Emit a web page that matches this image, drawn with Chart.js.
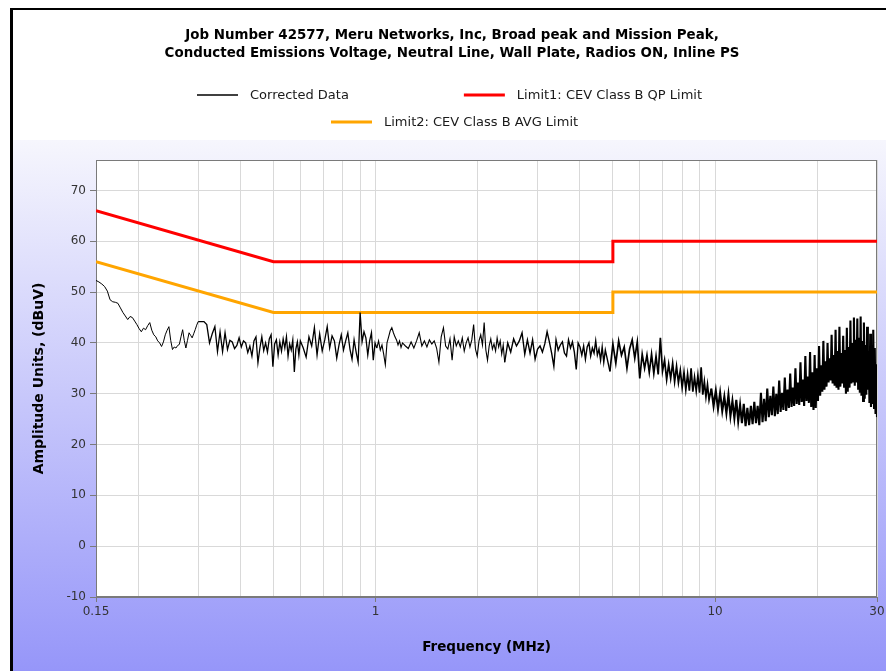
<!DOCTYPE html>
<html>
<head>
<meta charset="utf-8">
<script src="https://cdn.jsdelivr.net/npm/chart.js@4.4.1/dist/chart.umd.min.js"></script>
<style>
html,body{margin:0;padding:0;background:#fff;}
canvas{display:block;}
</style>
</head>
<body>
<canvas id="c" width="886" height="671"></canvas>
<script>
// ---------------- data ----------------
const titleLines = [
  'Job Number 42577, Meru Networks, Inc, Broad peak and Mission Peak,',
  'Conducted Emissions Voltage, Neutral Line, Wall Plate, Radios ON, Inline PS'
];
const seriesLabels = ['Corrected Data', 'Limit1: CEV Class B QP Limit', 'Limit2: CEV Class B AVG Limit'];
const xAxisTitle = 'Frequency (MHz)';
const yAxisTitle = 'Amplitude Units, (dBuV)';
const xTickLabels = [0.15, 1, 10, 30];
const xGridValues = [0.15, 0.2, 0.3, 0.4, 0.5, 0.6, 0.7, 0.8, 0.9, 1, 2, 3, 4, 5, 6, 7, 8, 9, 10, 20, 30];
const yTickValues = [-10, 0, 10, 20, 30, 40, 50, 60, 70];

const limitFreqs = [0.15, 0.5, 5, 5, 30];
const qpLimit = [66, 56, 56, 60, 60];
const avgLimit = [56, 46, 46, 50, 50];

const freqMHz = [
  0.150,0.153,0.156,0.159,0.162,0.165,0.168,0.171,0.174,0.177,0.180,0.183,0.186,0.189,0.192,0.195,0.198,0.201,0.204,0.207,
  0.210,0.213,0.216,0.219,0.222,0.225,0.228,0.231,0.234,0.237,0.240,0.243,0.246,0.249,0.252,0.255,0.258,0.261,0.264,0.267,
  0.270,0.273,0.276,0.279,0.282,0.285,0.288,0.291,0.294,0.297,0.300,
  0.306,0.312,0.318,0.324,0.330,0.336,0.342,0.348,0.354,0.360,0.366,0.372,0.378,0.384,0.390,0.396,0.402,0.408,0.414,0.420,
  0.426,0.432,0.438,0.444,0.450,0.456,0.462,0.468,0.474,0.480,0.486,0.492,0.498,0.504,0.510,0.516,0.522,0.528,0.534,0.540,
  0.546,0.552,0.558,0.564,0.570,0.576,0.582,0.588,0.594,0.600,
  0.612,0.624,0.636,0.648,0.660,0.672,0.684,0.696,0.708,0.720,0.732,0.744,0.756,0.768,0.780,0.792,0.804,0.816,0.828,0.840,
  0.852,0.864,0.876,0.888,0.900,0.912,0.924,0.936,0.948,0.960,0.972,0.984,0.996,1.008,1.020,1.032,1.044,1.056,1.068,1.080,
  1.092,1.104,1.116,1.128,1.140,1.152,1.164,1.176,1.188,1.200,
  1.224,1.248,1.272,1.296,1.320,1.344,1.368,1.392,1.416,1.440,1.464,1.488,1.512,1.536,1.560,1.584,1.608,1.632,1.656,1.680,
  1.704,1.728,1.752,1.776,1.800,1.824,1.848,1.872,1.896,1.920,1.944,1.968,1.992,2.016,2.040,2.064,2.088,2.112,2.136,2.160,
  2.184,2.208,2.232,2.256,2.280,2.304,2.328,2.352,2.376,2.400,
  2.45,2.50,2.55,2.60,2.65,2.70,2.75,2.80,2.85,2.90,2.95,3.00,3.05,3.10,3.15,3.20,3.25,3.30,3.35,3.40,
  3.45,3.50,3.55,3.60,3.65,3.70,3.75,3.80,3.85,3.90,3.95,4.00,4.05,4.10,4.15,4.20,4.25,4.30,4.35,4.40,
  4.45,4.50,4.55,4.60,4.65,4.70,4.75,4.80,
  4.9,5.0,5.1,5.2,5.3,5.4,5.5,5.6,5.7,5.8,5.9,6.0,6.1,6.2,6.3,6.4,6.5,6.6,6.7,6.8,
  6.9,7.0,7.1,7.2,7.3,7.4,7.5,7.6,7.7,7.8,7.9,8.0,8.1,8.2,8.3,8.4,8.5,8.6,8.7,8.8,
  8.9,9.0,9.1,9.2,9.3,9.4,9.5,9.6,
  9.75,9.90,10.05,10.20,10.35,10.50,10.65,10.80,10.95,11.10,11.25,11.40,11.55,11.70,11.85,12.00,12.15,12.30,12.45,12.60,
  12.75,12.90,13.05,13.20,13.35,13.50,13.65,13.80,13.95,14.10,14.25,14.40,14.55,14.70,14.85,15.00,15.15,15.30,15.45,15.60,
  15.75,15.90,16.05,16.20,16.35,16.50,16.65,16.80,16.95,17.10,17.25,17.40,17.55,17.70,17.85,18.00,18.15,18.30,18.45,18.60,
  18.75,18.90,19.05,19.20,19.35,19.50,19.65,19.80,19.95,20.10,20.25,20.40,20.55,20.70,20.85,21.00,21.15,21.30,21.45,21.60,
  21.75,21.90,22.05,22.20,22.35,22.50,22.65,22.80,22.95,23.10,23.25,23.40,23.55,23.70,23.85,24.00,24.15,24.30,24.45,24.60,
  24.75,24.90,25.05,25.20,25.35,25.50,25.65,25.80,25.95,26.10,26.25,26.40,26.55,26.70,26.85,27.00,27.15,27.30,27.45,27.60,
  27.75,27.90,28.05,28.20,28.35,28.50,28.65,28.80,28.95,29.10,29.25,29.40,29.55,29.70,29.85,30.00
];

const correctedDbuv = [
  52.3,52.0,51.6,51.1,50.2,48.5,48.1,48.0,47.8,46.9,46.0,45.3,44.6,45.2,45.0,44.3,43.6,42.8,42.2,42.9,
  42.6,43.4,44.0,42.5,41.6,41.2,40.4,40.0,39.3,40.2,41.6,42.5,43.2,40.5,38.7,39.2,39.0,39.5,39.7,41.2,
  42.6,40.5,39.0,40.5,42.0,41.5,41.0,41.8,42.6,43.5,44.2,
  44.2,44.2,43.6,40.0,41.8,43.2,38.3,42.2,38.3,42.0,38.7,40.5,40.2,38.9,39.5,41.0,39.2,40.4,40.0,38.1,
  39.4,37.4,40.4,41.2,36.1,39.0,41.2,38.5,40.0,38.2,40.8,41.6,35.3,39.8,40.6,37.6,40.2,38.4,40.8,39.0,
  41.2,37.4,39.8,38.6,40.6,34.3,38.8,40.2,37.6,40.4,
  39.0,37.2,41.2,39.4,43.0,37.6,41.8,38.4,40.6,43.2,39.0,41.4,40.4,37.0,39.6,41.6,38.6,40.4,42.0,38.8,
  36.8,40.6,38.2,36.2,46.0,40.2,42.2,41.0,37.6,40.4,42.0,36.6,40.0,39.0,40.4,38.6,39.6,37.8,35.7,40.0,
  41.2,42.4,43.0,42.0,41.2,40.6,39.6,40.4,39.1,40.0,
  39.4,38.9,40.2,39.0,40.4,42.0,39.4,40.4,39.2,40.6,39.8,40.4,39.0,36.2,41.2,43.0,39.4,38.8,40.8,36.6,
  41.2,39.4,40.4,39.2,41.0,38.4,40.0,41.0,39.2,40.6,43.6,38.8,37.4,40.4,41.6,39.6,44.0,38.6,36.6,39.4,
  40.8,38.8,39.8,38.4,41.0,39.2,40.4,37.8,39.6,36.2,
  40.0,38.2,40.8,39.4,40.4,42.0,37.8,40.6,38.0,40.6,36.8,38.8,39.4,38.2,39.8,42.2,40.2,38.0,35.4,40.6,
  38.6,39.6,40.2,38.0,37.4,40.6,39.0,40.2,38.2,34.8,40.0,39.2,37.6,39.4,36.8,39.2,40.0,37.4,39.0,38.0,
  40.4,37.6,38.8,36.6,39.2,36.2,38.6,37.2,
  34.4,39.8,36.0,40.4,37.6,39.2,35.0,38.8,40.6,37.0,40.2,33.0,37.8,35.0,37.6,34.2,37.8,34.0,37.4,33.8,
  41.0,34.4,36.6,32.8,35.8,33.0,36.0,32.4,35.4,32.2,34.6,31.2,34.2,30.8,33.8,30.6,35.0,30.4,33.2,30.6,
  33.6,30.2,35.2,29.8,32.4,29.4,31.8,28.8,
  31.0,27.6,30.6,27.0,30.2,26.6,29.4,26.2,29.8,25.6,28.6,25.2,28.8,24.6,27.8,24.2,28.0,23.6,27.2,23.8,
  27.6,24.0,28.4,24.2,27.6,23.8,30.2,24.4,29.0,24.6,31.0,25.4,29.6,25.8,31.4,25.6,30.0,26.0,32.6,26.4,
  30.2,26.8,33.2,26.6,30.8,27.2,34.0,27.4,31.2,27.6,35.0,28.0,32.2,27.8,36.2,28.4,32.8,27.6,37.4,28.6,
  33.4,28.2,38.2,27.4,34.2,26.8,37.6,27.2,35.0,28.6,39.4,29.6,35.6,30.4,40.4,30.8,36.4,31.4,40.0,32.2,
  37.0,32.6,41.6,32.0,37.6,31.6,42.6,31.2,38.4,30.8,43.2,31.4,38.0,32.0,41.4,31.2,38.6,30.0,43.0,30.4,
  39.2,31.2,44.4,32.0,40.0,32.4,45.0,31.6,40.6,32.2,44.8,31.0,41.0,30.2,45.2,29.6,40.4,28.6,44.0,29.0,
  39.6,29.8,43.2,30.8,38.4,28.2,41.8,27.4,37.8,28.0,42.6,27.2,39.0,26.0,35.8,25.4
];

// ---------------- helpers ----------------
const toPoints = (xs, ys) => xs.map((x, i) => ({x: x, y: ys[i]}));
const FONT = '"DejaVu Sans", "Noto Sans", sans-serif';

// stroke weight of the measured trace grows where the receiver sweep is denser
const traceWidth = (c) => {
  const f = c.p0.parsed.x;
  if (f >= 9.7) return 2.1;
  if (f >= 4.85) return 1.7;
  if (f >= 2.4) return 1.4;
  if (f >= 1.0) return 1.1;
  if (f >= 0.3) return 1.3;
  return 1;
};

const backgroundPlugin = {
  id: 'panelBackground',
  beforeDraw(chart) {
    const {ctx, width, height, chartArea: a} = chart;
    ctx.save();
    ctx.fillStyle = '#ffffff';
    ctx.fillRect(0, 0, width, height);
    const g = ctx.createLinearGradient(0, 140, 0, height);
    g.addColorStop(0, '#f6f6fd');
    g.addColorStop(1, '#9696f9');
    ctx.fillStyle = g;
    ctx.fillRect(12, 140, width - 12, height - 140);
    ctx.fillStyle = '#000000';
    ctx.fillRect(10, 8, width - 10, 2);
    ctx.fillRect(10, 8, 3, height - 8);
    ctx.fillStyle = '#ffffff';
    ctx.fillRect(a.left, a.top, a.right - a.left, a.bottom - a.top);
    ctx.restore();
  },
  beforeDatasetsDraw(chart) {
    const {ctx, chartArea: a} = chart;
    ctx.save();
    ctx.strokeStyle = '#7a7a7a';
    ctx.lineWidth = 1;
    ctx.strokeRect(Math.round(a.left) + 0.5, Math.round(a.top) + 0.5, Math.round(a.right - a.left) - 1, Math.round(a.bottom - a.top) - 1);
    ctx.restore();
  }
};

const headerPlugin = {
  id: 'header',
  afterDraw(chart) {
    const ctx = chart.ctx;
    ctx.save();
    // title
    ctx.fillStyle = '#000000';
    ctx.textAlign = 'center';
    ctx.textBaseline = 'middle';
    ctx.font = 'bold 13.4px ' + FONT;
    titleLines.forEach((t, i) => ctx.fillText(t, 452, 36 + i * 18));
    // legend
    const ds = chart.data.datasets;
    ctx.font = '13px ' + FONT;
    ctx.textAlign = 'left';
    const rows = [[0, 1], [2]];
    const rowY = [95, 122];
    const rowCenter = [450, 455];
    const sample = 41, gapT = 12, itemGap = 115;
    rows.forEach((row, r) => {
      const widths = row.map(i => sample + gapT + ctx.measureText(ds[i].label).width);
      const total = widths.reduce((s, w) => s + w, 0) + itemGap * (row.length - 1);
      let x = Math.round(rowCenter[r] - total / 2);
      row.forEach((i, k) => {
        ctx.strokeStyle = ds[i].borderColor;
        ctx.lineWidth = i === 0 ? 1.5 : 3;
        ctx.beginPath();
        ctx.moveTo(x, rowY[r]);
        ctx.lineTo(x + sample, rowY[r]);
        ctx.stroke();
        ctx.fillStyle = '#1a1a1a';
        ctx.fillText(ds[i].label, x + sample + gapT, rowY[r] + 1);
        x += widths[k] + itemGap;
      });
    });
    ctx.restore();
  }
};

new Chart(document.getElementById('c'), {
  type: 'line',
  data: {
    datasets: [
      {label: seriesLabels[0], data: toPoints(freqMHz, correctedDbuv), borderColor: '#000000', borderWidth: 1, pointRadius: 0, tension: 0,
       segment: {borderWidth: traceWidth}},
      {label: seriesLabels[1], data: toPoints(limitFreqs, qpLimit), borderColor: '#ff0000', borderWidth: 3, pointRadius: 0, tension: 0},
      {label: seriesLabels[2], data: toPoints(limitFreqs, avgLimit), borderColor: '#ffa500', borderWidth: 3, pointRadius: 0, tension: 0}
    ]
  },
  options: {
    responsive: false,
    animation: false,
    devicePixelRatio: 1,
    layout: {padding: {left: 13, right: 9, top: 160, bottom: 0}},
    plugins: {
      legend: {display: false},
      title: {display: false},
      tooltip: {enabled: false}
    },
    scales: {
      x: {
        type: 'logarithmic',
        min: 0.15,
        max: 30,
        afterBuildTicks(scale) { scale.ticks = xGridValues.map(v => ({value: v})); },
        afterFit(scale) { scale.height = 74; scale.paddingLeft = 0; scale.paddingRight = 0; },
        ticks: {
          autoSkip: false, maxRotation: 0, minRotation: 0, padding: 3,
          color: '#333333', font: {family: FONT, size: 12},
          callback(v) { return xTickLabels.includes(v) ? String(v) : ''; }
        },
        grid: {
          color: '#d9d9d9', lineWidth: 1, tickLength: 5,
          tickColor: (c) => (c.tick && xTickLabels.includes(c.tick.value)) ? '#7a7a7a' : 'rgba(0,0,0,0)'
        },
        border: {color: '#7a7a7a'},
        title: {display: true, text: xAxisTitle, color: '#000000', font: {family: FONT, size: 13.5, weight: 'bold'}, padding: {top: 0, bottom: 15}}
      },
      y: {
        type: 'linear',
        min: -10,
        max: 76,
        afterBuildTicks(scale) { scale.ticks = yTickValues.map(v => ({value: v})); },
        afterFit(scale) { scale.width = 83; },
        ticks: {color: '#333333', font: {family: FONT, size: 12}, padding: 4},
        grid: {color: '#d9d9d9', lineWidth: 1, tickLength: 6, tickColor: '#7a7a7a'},
        border: {color: '#7a7a7a'},
        title: {display: true, text: yAxisTitle, color: '#000000', font: {family: FONT, size: 14, weight: 'bold'}, padding: {top: 18, bottom: 0}}
      }
    }
  },
  plugins: [backgroundPlugin, headerPlugin]
});
</script>
</body>
</html>
